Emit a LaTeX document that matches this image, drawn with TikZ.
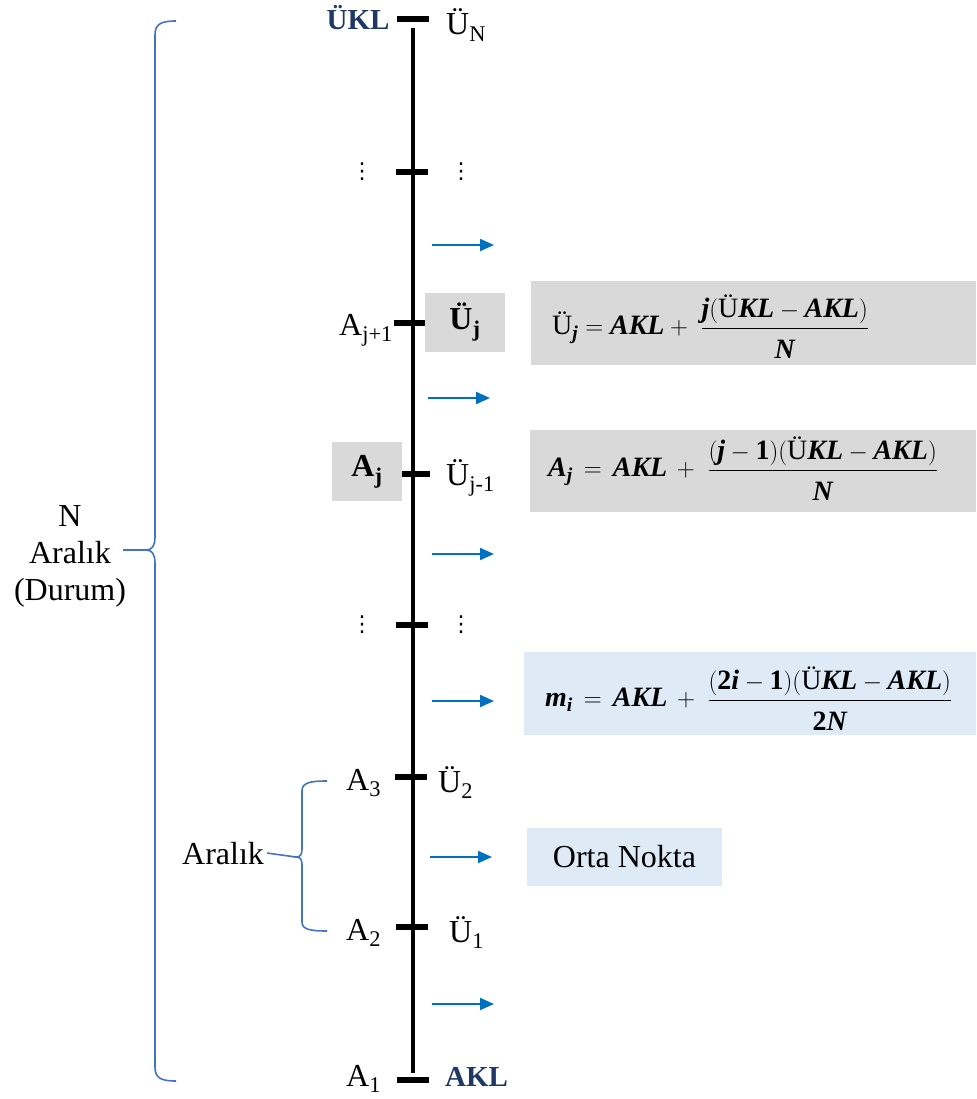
\documentclass[tikz,border=0pt]{standalone}
\usepackage{amsmath}
\usepackage{fontspec}
\setmainfont{Liberation Serif}
\newfontfamily\dejavu{DejaVu Sans}
\usetikzlibrary{arrows.meta}
\definecolor{dkblue}{HTML}{1F3864}
\definecolor{arrblue}{HTML}{0070C0}
\definecolor{brblue}{HTML}{4472C4}
\definecolor{boxgray}{HTML}{D9D9D9}
\definecolor{boxblue}{HTML}{DEEAF6}
\newcommand{\bi}[1]{\text{\bfseries\itshape #1}}
\newcommand{\bu}[1]{\text{\bfseries #1}}
\newcommand{\numsp}{\rule[-7pt]{0pt}{7pt}}
\newcommand{\densp}{\rule{0pt}{27pt}}
\newcommand{\vd}{{\dejavu\fontsize{22}{22}\selectfont ⋮}}
\begin{document}
\begin{tikzpicture}[x=1pt,y=-1pt,
  lbl/.style={font=\fontsize{32}{37}\selectfont, inner sep=0pt},
  endlbl/.style={lbl, font=\fontsize{29}{35}\selectfont\bfseries, text=dkblue},
  frm/.style={font=\fontsize{28}{34}\selectfont, inner sep=0pt, anchor=west},
  tickmark/.style={fill=black, inner sep=0pt, minimum width=32pt, minimum height=5.5pt},
  mainline/.style={line width=3.5pt},
  arr/.style={arrblue, line width=2pt, -{Triangle[length=14pt,width=12pt]}},
  brace/.style={brblue, line width=1.6pt},
  graybox/.style={fill=boxgray, inner sep=0pt},
  bluebox/.style={fill=boxblue, inner sep=0pt},
  dots/.style={inner sep=0pt}]
\useasboundingbox (0,0) rectangle (976,1099);

% ---- main axis
\node[tickmark] (tN) at (413,19) {};
\node[tickmark] (tD1) at (412,172) {};
\node[tickmark] (tJ1) at (410,323) {};
\node[tickmark] (tJ) at (414,474) {};
\node[tickmark] (tD2) at (412,625) {};
\node[tickmark] (t3) at (411,777) {};
\node[tickmark] (t2) at (412,927) {};
\node[tickmark] (t1) at (413,1080) {};
\draw[mainline, shorten <=6pt, shorten >=4pt] (tN) -- (t1);

% ---- labels on the axis
\node[endlbl, anchor=base] (ukl) at (358,30) {ÜKL};
\node[lbl, anchor=base west] (uN) at (446,35) {Ü\textsubscript{N}};
\node[dots] (dl1) at (362,172) {\vd};
\node[dots] (dr1) at (461,172) {\vd};
\node[lbl, anchor=base west] (aj1) at (339,335) {A\textsubscript{j+1}};
\node[graybox, minimum width=80pt, minimum height=59pt, font=\fontsize{32}{37}\selectfont\bfseries] (uj) at (465,322.5) {Ü\textsubscript{j}};
\node[graybox, minimum width=70pt, minimum height=59pt, font=\fontsize{32}{37}\selectfont\bfseries] (aj) at (367,471.5) {A\textsubscript{j}};
\node[lbl, anchor=base west] (ujm1) at (446,485) {Ü\textsubscript{j-1}};
\node[dots] (dl2) at (362,625) {\vd};
\node[dots] (dr2) at (461,625) {\vd};
\node[lbl, anchor=base west] (a3) at (346,790) {A\textsubscript{3}};
\node[lbl, anchor=base west] (u2) at (438,792) {Ü\textsubscript{2}};
\node[lbl, anchor=base west] (a2) at (346,940) {A\textsubscript{2}};
\node[lbl, anchor=base west] (u1) at (449,942) {Ü\textsubscript{1}};
\node[lbl, anchor=base west] (a1) at (346,1086) {A\textsubscript{1}};
\node[endlbl, anchor=base west] (akl) at (445,1086) {AKL};

% ---- arrows
\coordinate (s1) at (432,245); \coordinate (e1) at (494,245);
\coordinate (s2) at (428,398); \coordinate (e2) at (490,398);
\coordinate (s3) at (432,554); \coordinate (e3) at (494,554);
\coordinate (s4) at (432,701); \coordinate (e4) at (494,701);
\coordinate (s5) at (430,857); \coordinate (e5) at (492,857);
\coordinate (s6) at (432,1004); \coordinate (e6) at (494,1004);
\draw[arr] (s1) -- (e1);
\draw[arr] (s2) -- (e2);
\draw[arr] (s3) -- (e3);
\draw[arr] (s4) -- (e4);
\draw[arr] (s5) -- (e5);
\draw[arr] (s6) -- (e6);

% ---- formula boxes
\node[graybox, anchor=north west, minimum width=445pt, minimum height=84pt] (f1box) at (531,281) {};
\node[frm] (f1) at (552,327) {$\displaystyle \text{Ü}_{\bi{j}} = \bi{AKL} +\; \frac{\numsp\bi{j}(\text{Ü}\bi{KL} - \bi{AKL})}{\densp\bi{N}}$};
\node[graybox, anchor=north west, minimum width=446pt, minimum height=82pt] (f2box) at (530,430) {};
\node[frm] (f2) at (548,469) {$\displaystyle \bi{A}_{\bi{j}} \,=\, \bi{AKL} \,+\; \frac{\numsp(\bi{j} - \bu{1})(\text{Ü}\bi{KL} - \bi{AKL})}{\densp\bi{N}}$};
\node[bluebox, anchor=north west, minimum width=452pt, minimum height=83pt] (f3box) at (524,652) {};
\node[frm] (f3) at (545,699) {$\displaystyle \bi{m}_{\bi{i}} \,=\, \bi{AKL} \,+\; \frac{\numsp(\bu{2}\bi{i} - \bu{1})(\text{Ü}\bi{KL} - \bi{AKL})}{\densp\bu{2}\bi{N}}$};
\node[bluebox, minimum width=195pt, minimum height=58pt, font=\fontsize{32}{37}\selectfont] (orta) at (624.5,857) {Orta Nokta};

% ---- big brace
\coordinate (bt) at (176,21);
\coordinate (bb) at (176,1081);
\coordinate (btip) at (146,550);
\draw[brace] (bt) .. controls (161,21) and (155,24) .. (155,35) -- (155,537)
  .. controls (155,546) and (152,550) .. (btip)
  .. controls (152,550) and (155,554) .. (155,563) -- (155,1067)
  .. controls (155,1078) and (161,1081) .. (bb);
\node[lbl, align=center] (nlbl) at (70,556) {N\\Aralık\\(Durum)};
\coordinate (lead) at (123,550);
\draw[brace] (lead) -- (btip);

% ---- small brace
\coordinate (sbt) at (327,781);
\coordinate (sbb) at (327,931);
\coordinate (sbtip) at (296,857);
\draw[brace] (sbt) .. controls (309,781) and (302,783) .. (302,791) -- (302,849)
  .. controls (302,855) and (300,857) .. (sbtip)
  .. controls (300,857) and (302,859) .. (302,865) -- (302,922)
  .. controls (302,929) and (309,931) .. (sbb);
\node[lbl, anchor=base west, inner xsep=3pt] (aralik) at (179,864) {Aralık};
\draw[brace] (aralik.east) -- (sbtip);
\end{tikzpicture}
\end{document}
